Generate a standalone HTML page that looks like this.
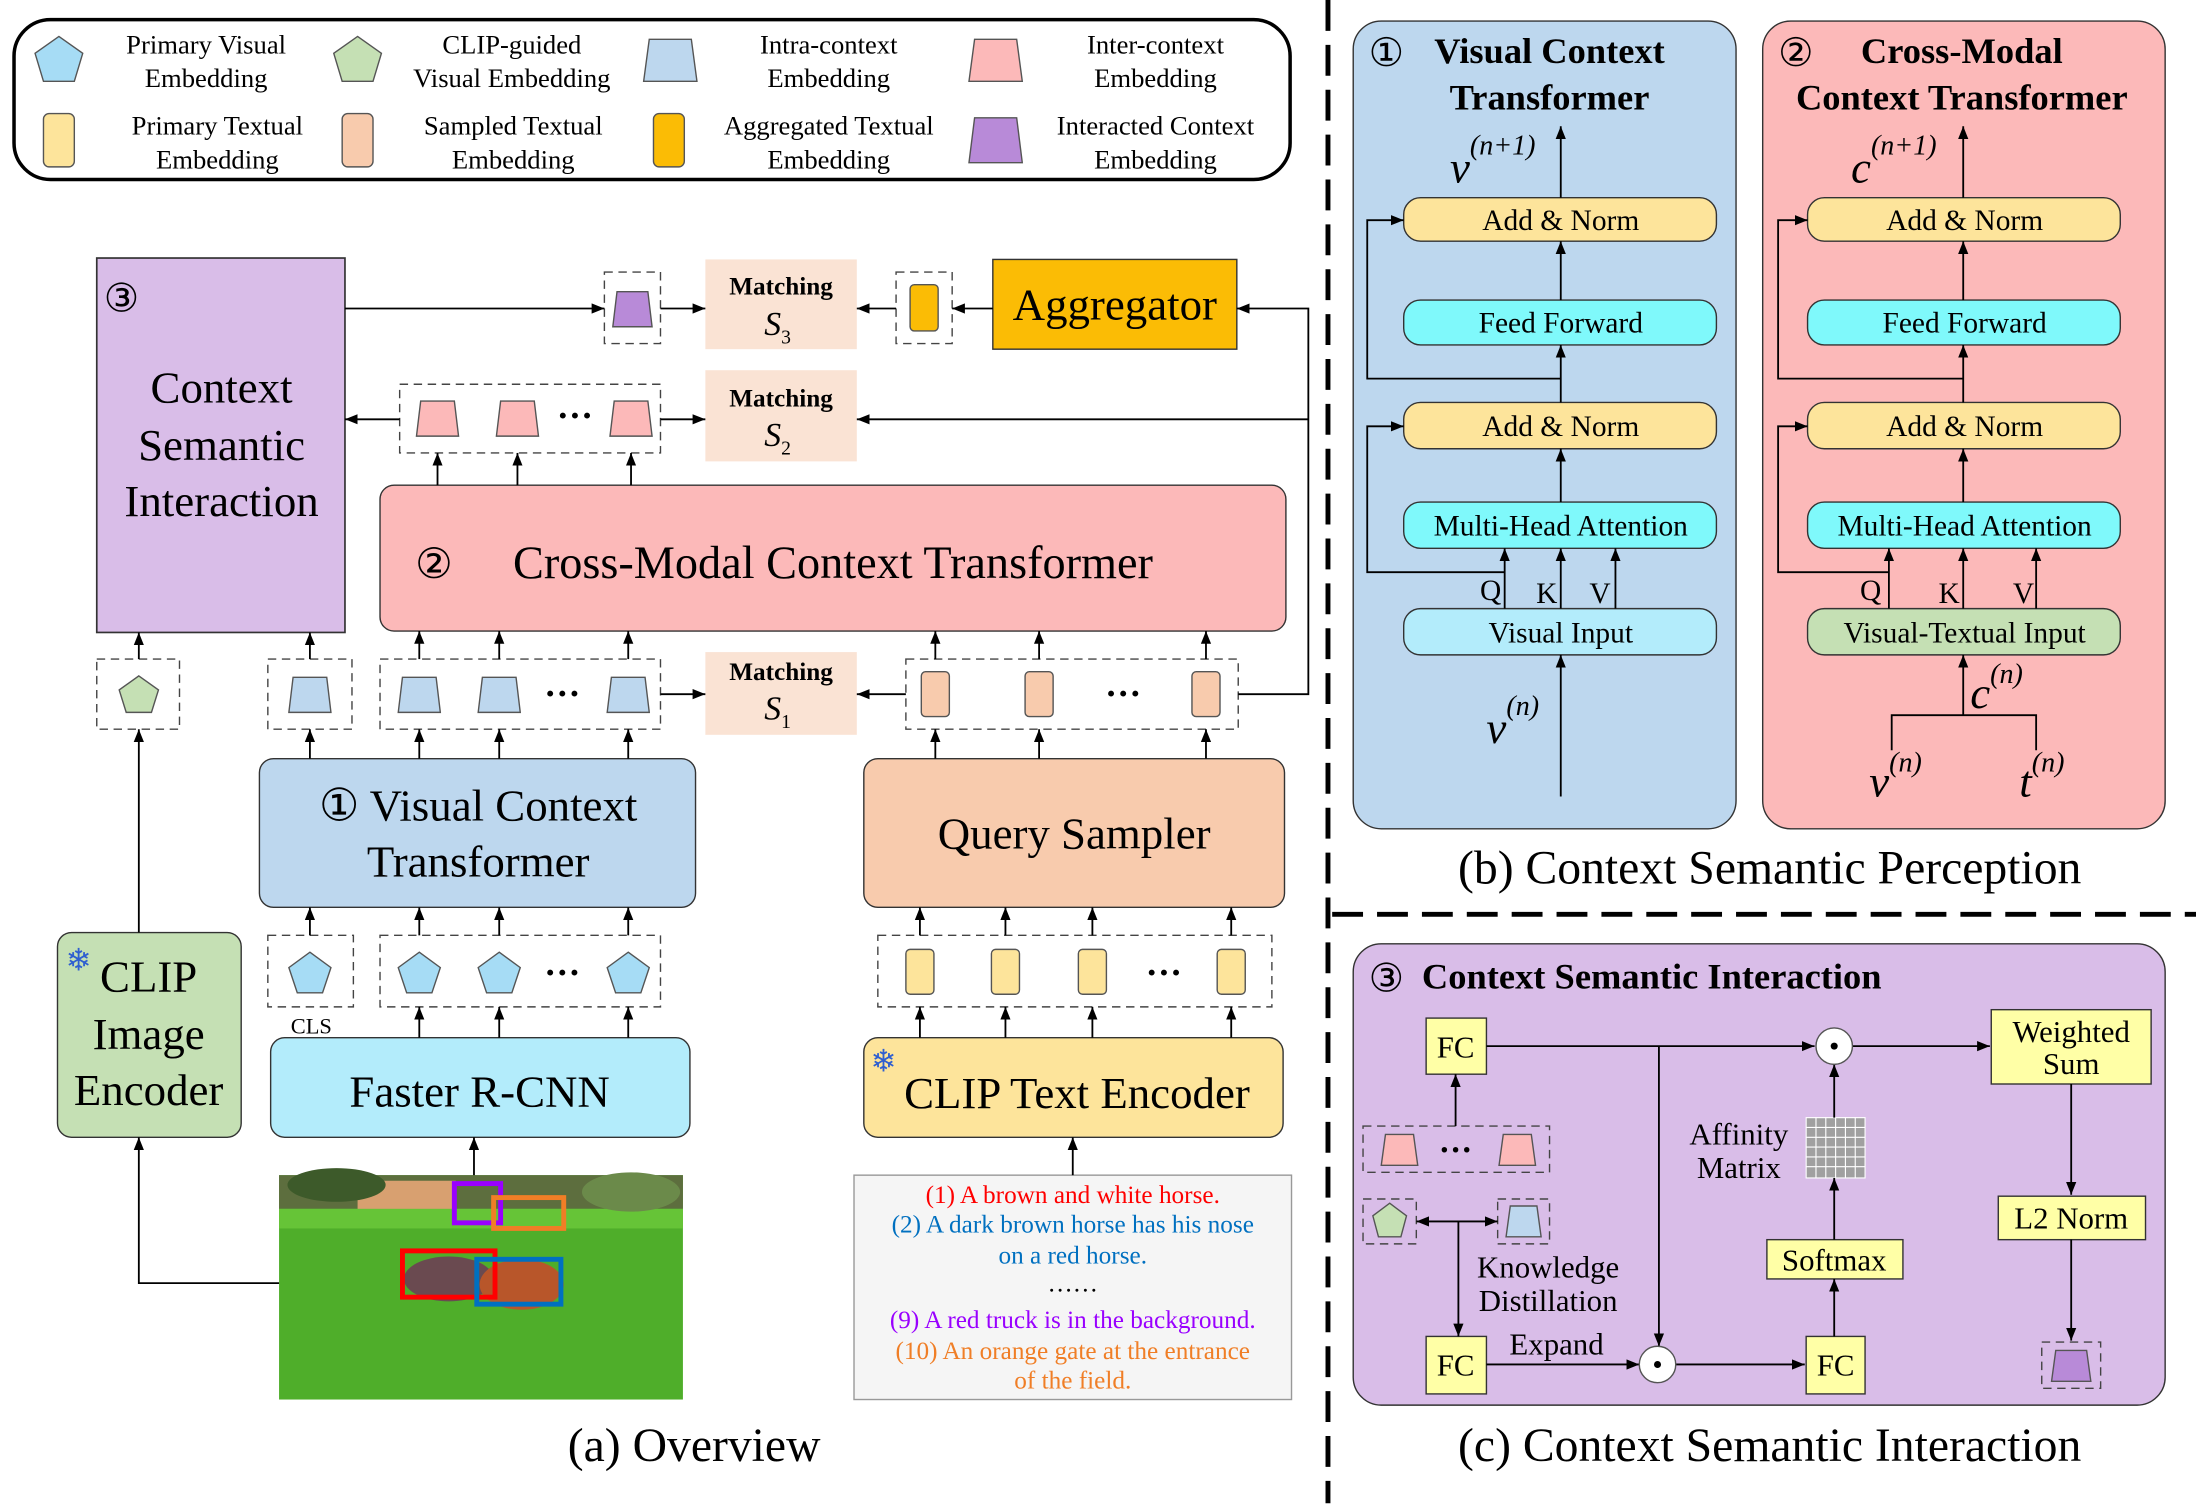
<!DOCTYPE html>
<html><head><meta charset="utf-8"><style>
html,body{margin:0;padding:0;background:#fff}
svg{display:block}
text{font-family:"Liberation Serif",serif;fill:#000}
</style></head><body>
<svg width="2196" height="1504" viewBox="0 0 1566 1072.5" preserveAspectRatio="none" xmlns="http://www.w3.org/2000/svg">
<defs>
<marker id="a" viewBox="0 0 10 10" refX="10" refY="5" markerWidth="7" markerHeight="7" orient="auto-start-reverse"><path d="M0,1 L10,5 L0,9 z" fill="#000"/></marker>
</defs>
<g stroke-linecap="butt">
<!-- Legend -->
<rect x="10" y="14" width="910" height="114" rx="26" fill="#fff" stroke="#000" stroke-width="2.5"/>
<polygon points="42,26 59,38 53,58 31,58 25,38" fill="#a6dcf5" stroke="#555"/>
<polygon points="255,26 272,38 266,58 244,58 238,38" fill="#c5e0b4" stroke="#555"/>
<polygon points="463,28 493,28 497,58 459,58" fill="#bdd7ee" stroke="#555"/>
<polygon points="695,28 725,28 729,58 691,58" fill="#fcb9b9" stroke="#555"/>
<rect x="31" y="81" width="22" height="38" rx="4" fill="#fde49b" stroke="#555"/>
<rect x="244" y="81" width="22" height="38" rx="4" fill="#f8cbad" stroke="#555"/>
<rect x="466" y="81" width="22" height="38" rx="4" fill="#fbbc05" stroke="#555"/>
<polygon points="695,84 725,84 729,116 691,116" fill="#b88ad8" stroke="#555"/>
<g font-size="19" text-anchor="middle">
<text x="147" y="38">Primary Visual</text><text x="147" y="62">Embedding</text>
<text x="365" y="38">CLIP-guided</text><text x="365" y="62">Visual Embedding</text>
<text x="591" y="38">Intra-context</text><text x="591" y="62">Embedding</text>
<text x="824" y="38">Inter-context</text><text x="824" y="62">Embedding</text>
<text x="155" y="96">Primary Textual</text><text x="155" y="120">Embedding</text>
<text x="366" y="96">Sampled Textual</text><text x="366" y="120">Embedding</text>
<text x="591" y="96">Aggregated Textual</text><text x="591" y="120">Embedding</text>
<text x="824" y="96">Interacted Context</text><text x="824" y="120">Embedding</text>
</g>

<!-- dividers -->
<line x1="947" y1="0" x2="947" y2="1072" stroke="#000" stroke-width="3.5" stroke-dasharray="22,10"/>
<line x1="950" y1="652" x2="1566" y2="652" stroke="#000" stroke-width="3.5" stroke-dasharray="22,10"/>

<!-- CSI -->
<rect x="69" y="184" width="177" height="267" fill="#d9bde8" stroke="#333" stroke-width="1.2"/>
<text x="74" y="222" font-size="28">③</text>
<g font-size="32" text-anchor="middle"><text x="158" y="287">Context</text><text x="158" y="328">Semantic</text><text x="158" y="368">Interaction</text></g>

<!-- Matching boxes -->
<g fill="#fae3d4"><rect x="503" y="185" width="108" height="64"/><rect x="503" y="264" width="108" height="65"/><rect x="503" y="465" width="108" height="59"/></g>
<g font-size="18" font-weight="bold" text-anchor="middle"><text x="557" y="210">Matching</text><text x="557" y="290">Matching</text><text x="557" y="485">Matching</text></g>
<g font-size="24" font-style="italic"><text x="545" y="239">S<tspan font-size="14" dy="6" font-style="normal">3</tspan></text><text x="545" y="318">S<tspan font-size="14" dy="6" font-style="normal">2</tspan></text><text x="545" y="513">S<tspan font-size="14" dy="6" font-style="normal">1</tspan></text></g>

<g fill="none" stroke="#444" stroke-dasharray="6,4">
<rect x="431" y="194" width="40" height="51"/><rect x="639" y="194" width="40" height="51"/>
<rect x="285" y="274" width="186" height="49"/>
<rect x="69" y="470" width="59" height="50"/><rect x="191" y="470" width="60" height="50"/><rect x="271" y="470" width="200" height="50"/><rect x="646" y="470" width="237" height="50"/>
<rect x="191" y="667" width="61" height="51"/><rect x="271" y="667" width="200" height="51"/><rect x="626" y="667" width="281" height="51"/>
</g>
<polygon points="440,208 462,208 465,233 437,233" fill="#b88ad8" stroke="#555"/>
<rect x="649" y="203" width="20" height="33" rx="3" fill="#fbbc05" stroke="#555"/>
<rect x="708" y="185" width="174" height="64" fill="#fbbc05" stroke="#333"/>
<text x="795" y="228" font-size="32" text-anchor="middle">Aggregator</text>

<g fill="#fcb9b9" stroke="#555">
<polygon points="300,286 324,286 327,311 297,311"/><polygon points="357,286 381,286 384,311 354,311"/><polygon points="438,286 462,286 465,311 435,311"/>
</g>
<text x="410" y="305" font-size="26" font-weight="bold" text-anchor="middle">···</text>

<rect x="271" y="346" width="646" height="104" rx="10" fill="#fcb9b9" stroke="#333"/>
<text x="296" y="412" font-size="30">②</text>
<text x="594" y="412" font-size="33" text-anchor="middle">Cross-Modal Context Transformer</text>

<polygon points="99,482 113,492 108,508 90,508 85,492" fill="#c5e0b4" stroke="#555"/>
<g fill="#bdd7ee" stroke="#555">
<polygon points="209,483 233,483 236,508 206,508"/><polygon points="287,483 311,483 314,508 284,508"/><polygon points="344,483 368,483 371,508 341,508"/><polygon points="436,483 460,483 463,508 433,508"/>
</g>
<text x="401" y="503" font-size="26" font-weight="bold" text-anchor="middle">···</text>
<g fill="#f8cbad" stroke="#555"><rect x="657" y="479" width="20" height="32" rx="3"/><rect x="731" y="479" width="20" height="32" rx="3"/><rect x="850" y="479" width="20" height="32" rx="3"/></g>
<text x="801" y="503" font-size="26" font-weight="bold" text-anchor="middle">···</text>

<rect x="185" y="541" width="311" height="106" rx="10" fill="#bdd7ee" stroke="#333"/>
<text x="341" y="585" font-size="32" text-anchor="middle">① Visual Context</text>
<text x="341" y="625" font-size="32" text-anchor="middle">Transformer</text>
<rect x="616" y="541" width="300" height="106" rx="10" fill="#f8cbad" stroke="#333"/>
<text x="766" y="605" font-size="32" text-anchor="middle">Query Sampler</text>

<g fill="#a6dcf5" stroke="#555">
<polygon points="221,679 236,690 230,708 212,708 206,690"/>
<polygon points="299,679 314,690 308,708 290,708 284,690"/>
<polygon points="356,679 371,690 365,708 347,708 341,690"/>
<polygon points="448,679 463,690 457,708 439,708 433,690"/>
</g>
<text x="222" y="737" font-size="16" text-anchor="middle">CLS</text>
<text x="401" y="702" font-size="26" font-weight="bold" text-anchor="middle">···</text>
<g fill="#fde49b" stroke="#555"><rect x="646" y="677" width="20" height="32" rx="3"/><rect x="707" y="677" width="20" height="32" rx="3"/><rect x="769" y="677" width="20" height="32" rx="3"/><rect x="868" y="677" width="20" height="32" rx="3"/></g>
<text x="830" y="702" font-size="26" font-weight="bold" text-anchor="middle">···</text>

<rect x="193" y="740" width="299" height="71" rx="10" fill="#b3ecfb" stroke="#333"/>
<text x="342" y="789" font-size="32" text-anchor="middle">Faster R-CNN</text>
<rect x="616" y="740" width="299" height="71" rx="10" fill="#fde49b" stroke="#333"/>
<text x="768" y="790" font-size="32" text-anchor="middle">CLIP Text Encoder</text>
<text x="630" y="764" font-size="22" text-anchor="middle" style="fill:#2f5fd0">❄</text>
<rect x="41" y="665" width="131" height="146" rx="10" fill="#c5e0b4" stroke="#333"/>
<text x="56" y="692" font-size="22" text-anchor="middle" style="fill:#2f5fd0">❄</text>
<g font-size="32" text-anchor="middle"><text x="106" y="707">CLIP</text><text x="106" y="748">Image</text><text x="106" y="788">Encoder</text></g>

<!-- photo -->
<rect x="199" y="838" width="288" height="160" fill="#4fae2a"/>
<rect x="199" y="838" width="288" height="24" fill="#5d6e3e"/>
<rect x="255" y="842" width="70" height="22" fill="#d8a070"/>
<rect x="199" y="862" width="288" height="14" fill="#66c437"/>
<ellipse cx="240" cy="845" rx="35" ry="12" fill="#3d5a2a"/>
<ellipse cx="450" cy="850" rx="35" ry="14" fill="#6b8a4a"/>
<ellipse cx="320" cy="912" rx="32" ry="16" fill="#6a4a50"/>
<ellipse cx="372" cy="916" rx="30" ry="18" fill="#b8562a"/>
<g stroke-width="3.5" fill="none">
<rect x="324" y="844" width="33" height="28" stroke="#9900ff"/>
<rect x="352" y="854" width="50" height="22" stroke="#f07e26"/>
<rect x="287" y="892" width="66" height="33" stroke="#ff0000"/>
<rect x="340" y="898" width="60" height="32" stroke="#0070c0"/>
</g>

<rect x="609" y="838" width="312" height="160" fill="#f5f5f5" stroke="#999"/>
<g font-size="18" text-anchor="middle">
<text x="765" y="858" style="fill:#ff0000">(1) A brown and white horse.</text>
<text x="765" y="879" style="fill:#0070c0">(2) A dark brown horse has his nose</text>
<text x="765" y="901" style="fill:#0070c0">on a red horse.</text>
<text x="765" y="921">……</text>
<text x="765" y="947" style="fill:#9900ff">(9) A red truck is in the background.</text>
<text x="765" y="969" style="fill:#f07e26">(10) An orange gate at the entrance</text>
<text x="765" y="990" style="fill:#f07e26">of the field.</text>
</g>
<text x="495" y="1042" font-size="34" text-anchor="middle">(a) Overview</text>

<!-- arrows left -->
<g stroke="#000" stroke-width="1.3" fill="none" marker-end="url(#a)">
<line x1="246" y1="220" x2="431" y2="220"/>
<line x1="471" y1="220" x2="503" y2="220"/>
<line x1="708" y1="220" x2="679" y2="220"/>
<line x1="639" y1="220" x2="611" y2="220"/>
<polyline points="883,495 933,495 933,220 882,220"/>
<polyline points="933,299 611,299"/>
<line x1="285" y1="299" x2="246" y2="299"/>
<line x1="471" y1="299" x2="503" y2="299"/>
<line x1="312" y1="346" x2="312" y2="323"/><line x1="369" y1="346" x2="369" y2="323"/><line x1="450" y1="346" x2="450" y2="323"/>
<line x1="99" y1="470" x2="99" y2="451"/><line x1="221" y1="470" x2="221" y2="451"/>
<line x1="299" y1="470" x2="299" y2="450"/><line x1="356" y1="470" x2="356" y2="450"/><line x1="448" y1="470" x2="448" y2="450"/>
<line x1="667" y1="470" x2="667" y2="450"/><line x1="741" y1="470" x2="741" y2="450"/><line x1="860" y1="470" x2="860" y2="450"/>
<line x1="471" y1="495" x2="503" y2="495"/>
<line x1="646" y1="495" x2="611" y2="495"/>
<line x1="221" y1="541" x2="221" y2="520"/><line x1="299" y1="541" x2="299" y2="520"/><line x1="356" y1="541" x2="356" y2="520"/><line x1="448" y1="541" x2="448" y2="520"/>
<line x1="667" y1="541" x2="667" y2="520"/><line x1="741" y1="541" x2="741" y2="520"/><line x1="860" y1="541" x2="860" y2="520"/>
<line x1="221" y1="667" x2="221" y2="647"/><line x1="299" y1="667" x2="299" y2="647"/><line x1="356" y1="667" x2="356" y2="647"/><line x1="448" y1="667" x2="448" y2="647"/>
<line x1="656" y1="667" x2="656" y2="647"/><line x1="717" y1="667" x2="717" y2="647"/><line x1="779" y1="667" x2="779" y2="647"/><line x1="878" y1="667" x2="878" y2="647"/>
<line x1="299" y1="740" x2="299" y2="718"/><line x1="356" y1="740" x2="356" y2="718"/><line x1="448" y1="740" x2="448" y2="718"/>
<line x1="656" y1="740" x2="656" y2="718"/><line x1="717" y1="740" x2="717" y2="718"/><line x1="779" y1="740" x2="779" y2="718"/><line x1="878" y1="740" x2="878" y2="718"/>
<line x1="99" y1="665" x2="99" y2="520"/>
<polyline points="199,915 99,915 99,811"/>
<line x1="338" y1="838" x2="338" y2="811"/>
<line x1="765" y1="838" x2="765" y2="811"/>
</g>

<!-- Panel b VCT -->
<rect x="965" y="15" width="273" height="576" rx="20" fill="#bdd7ee" stroke="#333"/>
<text x="976" y="47" font-size="28">①</text>
<text x="1105" y="45" font-size="26" font-weight="bold" text-anchor="middle">Visual Context</text>
<text x="1105" y="78" font-size="26" font-weight="bold" text-anchor="middle">Transformer</text>
<text x="1034" y="130" font-size="32" font-style="italic">v<tspan font-size="20" dy="-20">(n+1)</tspan></text>
<g stroke="#333">
<rect x="1001" y="141" width="223" height="31" rx="12" fill="#fde49b"/>
<rect x="1001" y="214" width="223" height="32" rx="12" fill="#7ff9fb"/>
<rect x="1001" y="287" width="223" height="33" rx="12" fill="#fde49b"/>
<rect x="1001" y="358" width="223" height="33" rx="12" fill="#7ff9fb"/>
<rect x="1001" y="434" width="223" height="33" rx="12" fill="#b3ecfb"/>
</g>
<g font-size="21" text-anchor="middle">
<text x="1113" y="164">Add &amp; Norm</text><text x="1113" y="237">Feed Forward</text><text x="1113" y="311">Add &amp; Norm</text><text x="1113" y="382">Multi-Head Attention</text><text x="1113" y="458">Visual Input</text>
<text x="1063" y="428">Q</text><text x="1103" y="430">K</text><text x="1141" y="430">V</text>
</g>
<text x="1060" y="530" font-size="32" font-style="italic">v<tspan font-size="20" dy="-20">(n)</tspan></text>

<!-- Panel b CMCT -->
<rect x="1257" y="15" width="287" height="576" rx="20" fill="#fcb9b9" stroke="#333"/>
<text x="1268" y="47" font-size="28">②</text>
<text x="1399" y="45" font-size="26" font-weight="bold" text-anchor="middle">Cross-Modal</text>
<text x="1399" y="78" font-size="26" font-weight="bold" text-anchor="middle">Context Transformer</text>
<text x="1320" y="130" font-size="32" font-style="italic">c<tspan font-size="20" dy="-20">(n+1)</tspan></text>
<g stroke="#333">
<rect x="1289" y="141" width="223" height="31" rx="12" fill="#fde49b"/>
<rect x="1289" y="214" width="223" height="32" rx="12" fill="#7ff9fb"/>
<rect x="1289" y="287" width="223" height="33" rx="12" fill="#fde49b"/>
<rect x="1289" y="358" width="223" height="33" rx="12" fill="#7ff9fb"/>
<rect x="1289" y="434" width="223" height="33" rx="12" fill="#c5e0b4"/>
</g>
<g font-size="21" text-anchor="middle">
<text x="1401" y="164">Add &amp; Norm</text><text x="1401" y="237">Feed Forward</text><text x="1401" y="311">Add &amp; Norm</text><text x="1401" y="382">Multi-Head Attention</text><text x="1401" y="458">Visual-Textual Input</text>
<text x="1334" y="428">Q</text><text x="1390" y="430">K</text><text x="1443" y="430">V</text>
</g>
<text x="1405" y="505" font-size="32" font-style="italic">c<tspan font-size="20" dy="-18">(n)</tspan></text>
<text x="1333" y="568" font-size="32" font-style="italic">v<tspan font-size="20" dy="-18">(n)</tspan></text>
<text x="1440" y="568" font-size="32" font-style="italic">t<tspan font-size="20" dy="-18">(n)</tspan></text>
<text x="1262" y="630" font-size="34" text-anchor="middle">(b) Context Semantic Perception</text>

<g stroke="#000" stroke-width="1.3" fill="none" marker-end="url(#a)">
<line x1="1113" y1="568" x2="1113" y2="467"/>
<line x1="1073" y1="434" x2="1073" y2="391"/><line x1="1113" y1="434" x2="1113" y2="391"/><line x1="1152" y1="434" x2="1152" y2="391"/>
<line x1="1113" y1="358" x2="1113" y2="320"/><line x1="1113" y1="287" x2="1113" y2="246"/><line x1="1113" y1="214" x2="1113" y2="172"/><line x1="1113" y1="141" x2="1113" y2="90"/>
<polyline points="1073,408 975,408 975,304 1001,304"/>
<polyline points="1113,270 975,270 975,157 1001,157"/>
<line x1="1400" y1="510" x2="1400" y2="467"/>
<line x1="1347" y1="434" x2="1347" y2="391"/><line x1="1400" y1="434" x2="1400" y2="391"/><line x1="1452" y1="434" x2="1452" y2="391"/>
<line x1="1400" y1="358" x2="1400" y2="320"/><line x1="1400" y1="287" x2="1400" y2="246"/><line x1="1400" y1="214" x2="1400" y2="172"/><line x1="1400" y1="141" x2="1400" y2="90"/>
<polyline points="1347,408 1268,408 1268,304 1289,304"/>
<polyline points="1400,270 1268,270 1268,157 1289,157"/>
</g>
<polyline points="1349,535 1349,510 1452,510 1452,535" fill="none" stroke="#000" stroke-width="1.3"/>

<!-- Panel c -->
<rect x="965" y="673" width="579" height="329" rx="20" fill="#d9bde8" stroke="#333"/>
<text x="976" y="707" font-size="28">③</text>
<text x="1014" y="705" font-size="26" font-weight="bold">Context Semantic Interaction</text>
<g fill="#ffffa6" stroke="#333">
<rect x="1017" y="726" width="43" height="40"/><rect x="1420" y="720" width="114" height="53"/>
<rect x="1260" y="884" width="97" height="28"/><rect x="1425" y="853" width="105" height="31"/>
<rect x="1017" y="953" width="43" height="41"/><rect x="1288" y="953" width="42" height="41"/>
</g>
<g font-size="22" text-anchor="middle">
<text x="1038" y="754">FC</text><text x="1477" y="743">Weighted</text><text x="1477" y="766">Sum</text>
<text x="1308" y="906">Softmax</text><text x="1477" y="876">L2 Norm</text>
<text x="1038" y="981">FC</text><text x="1309" y="981">FC</text>
<text x="1240" y="816">Affinity</text><text x="1240" y="840">Matrix</text>
<text x="1104" y="911">Knowledge</text><text x="1104" y="935">Distillation</text>
<text x="1110" y="966">Expand</text>
</g>
<g fill="#a0a0a0" stroke="#fff" stroke-width="0.8">
<rect x="1288" y="797" width="42" height="43"/>
<path d="M1295 797V840M1302 797V840M1309 797V840M1316 797V840M1323 797V840M1288 804H1330M1288 811H1330M1288 818H1330M1288 825H1330M1288 832H1330"/>
</g>
<g fill="none" stroke="#444" stroke-dasharray="6,4">
<rect x="972" y="803" width="133" height="33"/><rect x="972" y="855" width="38" height="32"/><rect x="1068" y="855" width="37" height="32"/><rect x="1456" y="957" width="42" height="33"/>
</g>
<g fill="#fcb9b9" stroke="#555"><polygon points="988,809 1008,809 1011,831 985,831"/><polygon points="1072,809 1092,809 1095,831 1069,831"/></g>
<text x="1038" y="828" font-size="24" font-weight="bold" text-anchor="middle">···</text>
<polygon points="991,858 1003,867 999,882 983,882 979,867" fill="#c5e0b4" stroke="#555"/>
<polygon points="1077,860 1096,860 1099,882 1074,882" fill="#bdd7ee" stroke="#555"/>
<polygon points="1466,963 1488,963 1491,985 1463,985" fill="#b88ad8" stroke="#555"/>
<g stroke="#000" stroke-width="1.3" fill="none" marker-end="url(#a)">
<line x1="1060" y1="746" x2="1294" y2="746"/><line x1="1321" y1="746" x2="1419" y2="746"/>
<line x1="1038" y1="803" x2="1038" y2="766"/>
<line x1="1308" y1="797" x2="1308" y2="759"/>
<line x1="1308" y1="884" x2="1308" y2="840"/>
<line x1="1308" y1="953" x2="1308" y2="912"/>
<line x1="1040" y1="871" x2="1040" y2="953"/>
<line x1="1060" y1="973" x2="1169" y2="973"/>
<line x1="1183" y1="746" x2="1183" y2="960"/>
<line x1="1195" y1="973" x2="1287" y2="973"/>
<line x1="1477" y1="773" x2="1477" y2="852"/>
<line x1="1477" y1="884" x2="1477" y2="956"/>
</g>
<line x1="1010" y1="871" x2="1068" y2="871" stroke="#000" stroke-width="1.3" marker-start="url(#a)" marker-end="url(#a)"/>
<g fill="#fff" stroke="#555"><circle cx="1308" cy="746" r="13"/><circle cx="1182" cy="973" r="13"/></g>
<circle cx="1308" cy="746" r="2.5" fill="#000"/><circle cx="1182" cy="973" r="2.5" fill="#000"/>
<text x="1262" y="1042" font-size="34" text-anchor="middle">(c) Context Semantic Interaction</text>
</g>
</svg>
</body></html>
